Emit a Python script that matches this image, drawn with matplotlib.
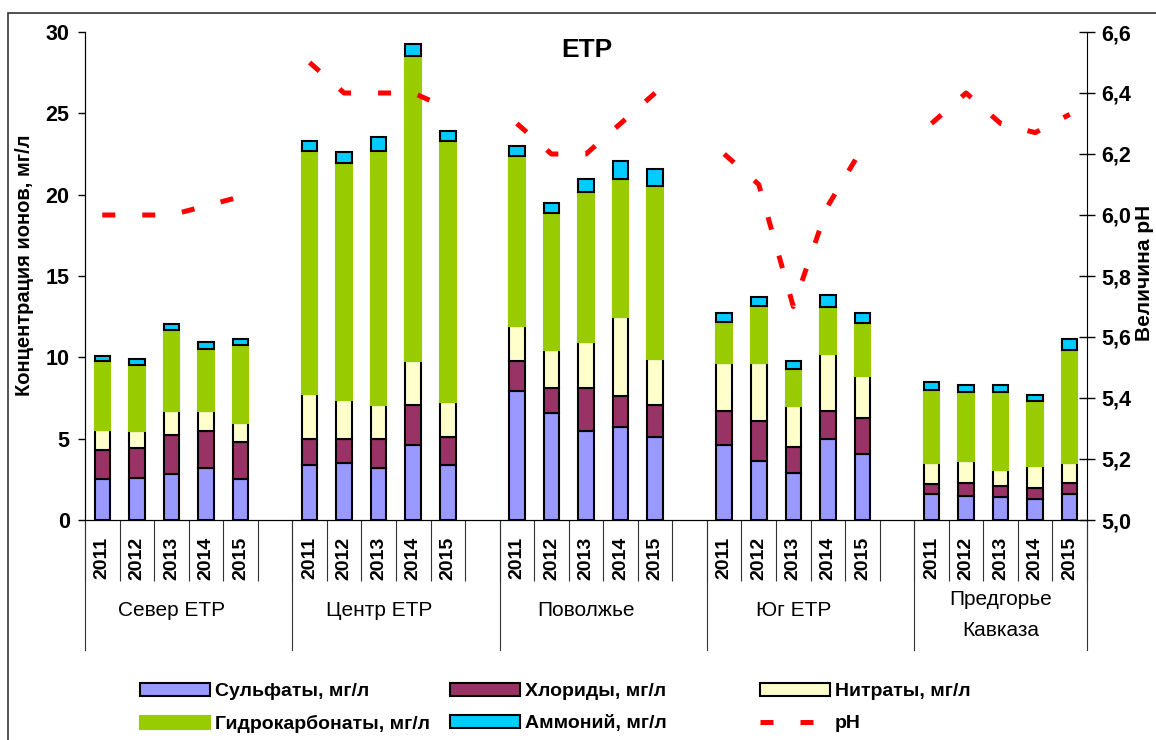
import numpy as np
import matplotlib
matplotlib.use("Agg")
import matplotlib.pyplot as plt
from matplotlib.patches import Patch, Rectangle
from matplotlib.lines import Line2D
import matplotlib.transforms as mtransforms

plt.rcParams['font.family'] = ['Liberation Sans', 'DejaVu Sans']

# Data
groups = ['Север ЕТР', 'Центр ЕТР', 'Поволжье', 'Юг ЕТР', 'Предгорье\nКавказа']
years = ['2011', '2012', '2013', '2014', '2015']

sulfates = [[2.5, 2.6, 2.8, 3.2, 2.5],
            [3.4, 3.5, 3.2, 4.6, 3.4],
            [7.9, 6.6, 5.5, 5.7, 5.1],
            [4.6, 3.6, 2.9, 5.0, 4.05],
            [1.6, 1.5, 1.4, 1.3, 1.6]]
chlorides = [[1.8, 1.8, 2.4, 2.3, 2.3],
             [1.6, 1.5, 1.8, 2.5, 1.7],
             [1.9, 1.5, 2.6, 1.9, 2.0],
             [2.1, 2.5, 1.6, 1.7, 2.2],
             [0.6, 0.8, 0.7, 0.65, 0.7]]
nitrates = [[1.25, 1.1, 1.5, 1.2, 1.15],
            [2.75, 2.35, 2.1, 2.7, 2.15],
            [2.15, 2.35, 2.85, 4.9, 2.8],
            [2.95, 3.55, 2.5, 3.5, 2.6],
            [1.3, 1.3, 0.95, 1.4, 1.2]]
hydrocarbonates = [[4.25, 4.05, 4.95, 3.8, 4.8],
                   [14.95, 14.6, 15.6, 18.7, 16.05],
                   [10.4, 8.4, 9.2, 8.45, 10.65],
                   [2.5, 3.5, 2.3, 2.9, 3.25],
                   [4.5, 4.25, 4.8, 3.95, 6.95]]
ammonium = [[0.3, 0.35, 0.4, 0.45, 0.4],
            [0.6, 0.7, 0.85, 0.75, 0.6],
            [0.65, 0.65, 0.8, 1.1, 1.0],
            [0.55, 0.55, 0.45, 0.75, 0.6],
            [0.5, 0.45, 0.45, 0.4, 0.65]]
ph = [[6.0, 6.0, 6.0, 6.03, 6.06],
      [6.5, 6.4, 6.4, 6.4, 6.35],
      [6.3, 6.2, 6.2, 6.3, 6.4],
      [6.2, 6.1, 5.7, 6.03, 6.22],
      [6.3, 6.4, 6.3, 6.27, 6.33]]

series = [('Сульфаты, мг/л', sulfates, '#9999FF', 'black'),
          ('Хлориды, мг/л', chlorides, '#993366', 'black'),
          ('Нитраты, мг/л', nitrates, '#FFFFCC', 'black'),
          ('Гидрокарбонаты, мг/л', hydrocarbonates, '#99CC00', '#99CC00'),
          ('Аммоний, мг/л', ammonium, '#00CCFF', 'black')]

# slot layout: 5 years + one blank slot per group (no blank after last group)
slot = 6
n_slots = slot * len(groups) - 1
centers = np.array([g * slot + i for g in range(len(groups)) for i in range(len(years))])

fig = plt.figure(figsize=(11.56, 7.4), dpi=100)
ax = fig.add_axes([85 / 1156, 1 - 520 / 740, (1087 - 85) / 1156, 488 / 740])

bottom = np.zeros(len(centers))
handles = {}
for label, vals, color, edge in series:
    v = np.array(vals, dtype=float).ravel()
    h = ax.bar(centers, v, 0.45, bottom=bottom, color=color,
               edgecolor=edge, linewidth=1.5, label=label, zorder=2)
    handles[label] = h
    bottom = bottom + v

ax.set_xlim(-0.5, n_slots - 0.5)
ax.set_ylim(0, 30)
ax.set_yticks(np.arange(0, 31, 5))
ax.tick_params(axis='y', direction='out', length=5, width=1, labelsize=15.5, pad=6)
for t in ax.get_yticklabels():
    t.set_fontweight('bold')
ax.spines['top'].set_visible(False)
ax.spines['right'].set_visible(False)

# x axis: slot separators as major ticks, year labels at slot centres
ax.set_xticks(np.arange(n_slots + 1) - 0.5)
ax.set_xticklabels([])
ax.tick_params(axis='x', which='major', direction='out', length=44, width=0.8, color='#333333')
ax.set_xticks(centers, minor=True)
ax.set_xticklabels(years * len(groups), minor=True, rotation=90, fontsize=14,
                   fontweight='bold')
ax.tick_params(axis='x', which='minor', length=0, pad=12)

trans = mtransforms.blended_transform_factory(ax.transData, ax.transAxes)
bounds = [g * slot - 0.5 for g in range(len(groups))] + [n_slots - 0.5]
for b in bounds:
    ax.add_line(Line2D([b, b], [0, -130 / 488], transform=trans, color='#333333',
                       linewidth=0.8, clip_on=False))
for g, name in enumerate(groups):
    ax.text(g * slot + 2, -91 / 488 if '\n' not in name else -95 / 488, name,
            transform=trans, ha='center', va='center', fontsize=15,
            linespacing=1.75)

# pH on the secondary axis
ax2 = ax.twinx()
for g in range(len(groups)):
    xs = np.arange(g * slot, g * slot + len(years))
    ln, = ax2.plot(xs, ph[g], color='#FF0000', linewidth=3.6,
                   linestyle=(0, (2.6, 5.4)), dash_capstyle='butt', zorder=3)
handles['pH'] = ln
ax2.set_ylim(5.0, 6.6)
ph_ticks = np.round(np.arange(5.0, 6.61, 0.2), 1)
ax2.set_yticks(ph_ticks)
ax2.set_yticklabels([f'{v:.1f}'.replace('.', ',') for v in ph_ticks],
                    fontsize=15.5, fontweight='bold')
ax2.tick_params(axis='y', direction='inout', length=12, width=1, pad=4)
ax2.spines['top'].set_visible(False)

# axis titles and chart title
fig.text(25 / 1156, 1 - 265 / 740, 'Концентрация ионов, мг/л', rotation=90,
         ha='center', va='center', fontsize=14.5, fontweight='bold')
fig.text(1145 / 1156, 1 - 273 / 740, 'Величина pH', rotation=90,
         ha='center', va='center', fontsize=15, fontweight='bold')
fig.text(587 / 1156, 1 - 50 / 740, 'ЕТР', ha='center', va='center',
         fontsize=19, fontweight='bold')

# legend: three columns placed separately
cols = [(['Сульфаты, мг/л', 'Гидрокарбонаты, мг/л'], 140),
        (['Хлориды, мг/л', 'Аммоний, мг/л'], 450),
        (['Нитраты, мг/л', 'pH'], 760)]
for names, xpx in cols:
    hs = []
    for n in names:
        if n == 'pH':
            hs.append(Line2D([], [], color='#FF0000', linewidth=3.6,
                             linestyle=(0, (2.6, 5.4)), dash_capstyle='butt'))
        else:
            p = handles[n].patches[0]
            hs.append(Patch(facecolor=p.get_facecolor(), edgecolor=p.get_edgecolor(),
                            linewidth=1.5))
    fig.legend(hs, names, loc='upper left',
               bbox_to_anchor=(xpx / 1156, 1 - 683 / 740), frameon=False,
               prop={'size': 14, 'weight': 'bold'}, handlelength=3.6,
               handleheight=0.67, handletextpad=0.26, labelspacing=0.75,
               borderpad=0, borderaxespad=0)

# outer chart border (cropped at right and bottom)
fig.add_artist(Rectangle((8 / 1156, -0.05), 1.2, 1 - 13 / 740 + 0.05,
                         transform=fig.transFigure, fill=False,
                         edgecolor='#333333', linewidth=1.2))

fig.savefig('out.png', dpi=100)
